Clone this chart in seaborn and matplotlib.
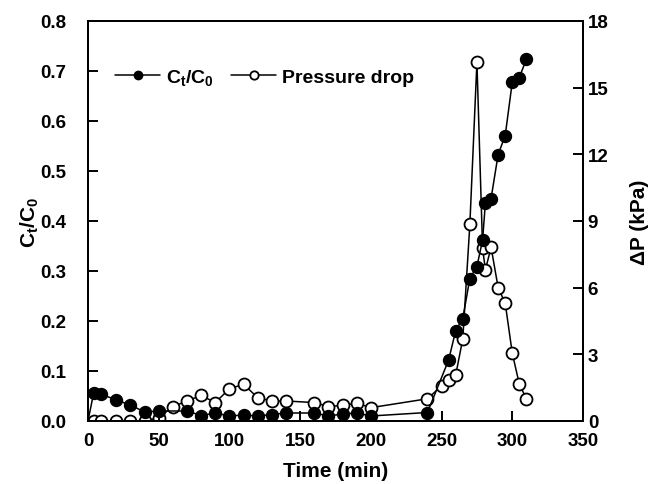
import matplotlib
matplotlib.use("Agg")
import matplotlib.pyplot as plt
import seaborn as sns
import pandas as pd

# ---- data ----
time_c = [0, 4, 9, 20, 30, 40, 50, 70, 80, 90, 100, 110, 120, 130, 140, 160, 170, 180,
          190, 200, 240, 255, 260, 265, 270, 275, 279, 281, 285, 290, 295, 300, 305, 310]
ct_c0 = [0.0, 0.056, 0.054, 0.042, 0.032, 0.018, 0.020, 0.020, 0.011, 0.016, 0.010, 0.012,
         0.010, 0.013, 0.016, 0.016, 0.010, 0.014, 0.016, 0.010, 0.017, 0.122, 0.181, 0.205,
         0.285, 0.309, 0.362, 0.437, 0.445, 0.533, 0.571, 0.678, 0.687, 0.724]

time_p = [0, 4, 9, 20, 30, 40, 50, 60, 70, 80, 90, 100, 110, 120, 130, 140, 160, 170, 180,
          190, 200, 240, 250, 255, 260, 265, 270, 275, 279, 281, 285, 290, 295, 300, 305, 310]
pressure = [0.0, 0.0, 0.0, 0.0, 0.0, 0.0, 0.15, 0.65, 0.9, 1.15, 0.83, 1.45, 1.65, 1.05,
            0.9, 0.9, 0.83, 0.65, 0.7, 0.8, 0.6, 1.0, 1.58, 1.83, 2.07, 3.7, 8.85, 16.15,
            7.77, 6.8, 7.82, 6.0, 5.3, 3.05, 1.65, 1.0]

x_ticks = [0, 50, 100, 150, 200, 250, 300, 350]
left_ticks = [0.0, 0.1, 0.2, 0.3, 0.4, 0.5, 0.6, 0.7, 0.8]
right_ticks = [0, 3, 6, 9, 12, 15, 18]

df_c = pd.DataFrame({"time": time_c, "ct": ct_c0})
df_p = pd.DataFrame({"time": time_p, "dp": pressure})

sns.set_style("ticks")
plt.rcParams["font.family"] = ["Liberation Sans", "DejaVu Sans"]
plt.rcParams["font.weight"] = "bold"
plt.rcParams["mathtext.fontset"] = "custom"
plt.rcParams["mathtext.rm"] = "Liberation Sans:bold"
plt.rcParams["mathtext.it"] = "Liberation Sans:bold"
plt.rcParams["mathtext.bf"] = "Liberation Sans:bold"
for k in ("text.color", "axes.labelcolor", "xtick.color", "ytick.color",
          "xtick.labelcolor", "ytick.labelcolor", "axes.edgecolor"):
    plt.rcParams[k] = "black"

fig = plt.figure(figsize=(6.49, 4.85), dpi=100)
ax = fig.add_axes([88 / 649, 1 - 422 / 485, 495 / 649, 400 / 485])
ax2 = ax.twinx()
ax.set_zorder(ax2.get_zorder() + 1)
ax.patch.set_visible(False)

sns.lineplot(data=df_p, x="time", y="dp", ax=ax2, sort=False, estimator=None,
             color="black", linewidth=1.1, marker="o", markersize=8.6,
             markerfacecolor="white", markeredgecolor="black", markeredgewidth=1.3,
             markevery=list(range(1, len(time_p))), label="Pressure drop", legend=False)
sns.lineplot(data=df_c, x="time", y="ct", ax=ax, sort=False, estimator=None,
             color="black", linewidth=1.1, marker="o", markersize=8.6,
             markerfacecolor="black", markeredgecolor="black", markeredgewidth=1.0,
             markevery=list(range(1, len(time_c))), label=r"$\mathbf{C_t/C_0}$", legend=False)

ax.set_xlim(0, 350)
ax.set_ylim(0, 0.8)
ax2.set_ylim(0, 18)
ax.set_xticks(x_ticks)
ax.set_yticks(left_ticks)
ax.set_yticklabels([f"{v:.1f}" for v in left_ticks])
ax2.set_yticks(right_ticks)

for a in (ax, ax2):
    for s in a.spines.values():
        s.set_linewidth(1.4)
        s.set_color("black")
        s.set_visible(True)

ax.tick_params(axis="both", direction="in", length=7.5, width=1.4, labelsize=13.5,
               colors="black", labelcolor="black")
ax.tick_params(axis="y", pad=15.5)
ax.tick_params(axis="x", pad=8)
ax2.tick_params(axis="y", direction="in", length=7.5, width=1.4, labelsize=13.5, pad=3.5,
                colors="black", labelcolor="black")

ax.set_xlabel("Time (min)", fontsize=15, fontweight="bold", color="black")
ax.set_ylabel(r"$\mathbf{C_t/C_0}$", fontsize=15, color="black")
ax2.set_ylabel("ΔP (kPa)", fontsize=15, fontweight="bold", color="black")
ax.xaxis.set_label_coords(0.5, -0.1)
ax.yaxis.set_label_coords(-0.095, 0.5)
ax2.yaxis.set_label_coords(1.095, 0.5)

h1 = ax.lines[0]
h2 = ax2.lines[0]
leg = ax.legend([h1, h2], [r"$\mathbf{C_t/C_0}$", "Pressure drop"], ncol=2,
                loc="center left", bbox_to_anchor=(0.055, 0.86), frameon=False,
                borderaxespad=0, borderpad=0, handlelength=2.3, handletextpad=0.3,
                columnspacing=0.9, markerscale=0.7, prop={"size": 14, "weight": "bold"})
for t in leg.get_texts():
    t.set_color("black")

fig.savefig("out.png", dpi=100)
